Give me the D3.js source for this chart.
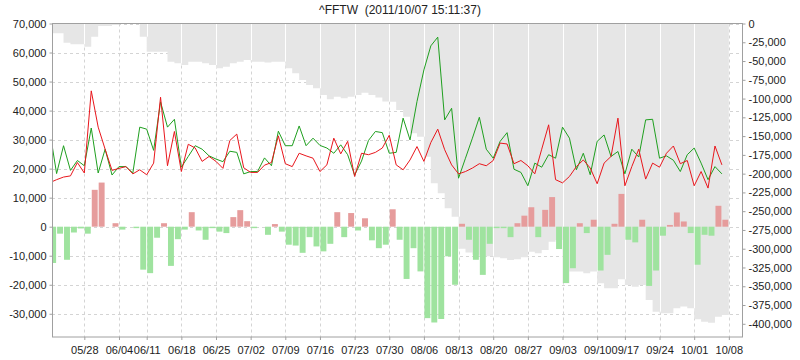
<!DOCTYPE html>
<html><head><meta charset="utf-8">
<script src="https://cdn.jsdelivr.net/npm/d3@7"></script>
<style>body{margin:0;background:#fff} text{font-family:"Liberation Sans",Arial,sans-serif}</style>
</head><body><svg id="c" width="800" height="360"></svg>
<script>
const title = "^FFTW  (2011/10/07 15:11:37)";
const dates = ["05/23","05/24","05/25","05/26","05/27","05/30","05/31","06/01","06/02","06/03",
"06/07","06/08","06/09","06/10","06/13","06/14","06/15","06/16","06/17","06/20","06/21","06/22","06/23","06/24",
"06/27","06/28","06/29","06/30","07/01","07/04","07/05","07/06","07/07","07/08","07/11","07/12","07/13","07/14","07/15",
"07/18","07/19","07/20","07/21","07/22","07/25","07/26","07/27","07/28","07/29","08/01","08/02","08/03","08/04","08/05",
"08/08","08/09","08/10","08/11","08/12","08/15","08/16","08/17","08/18","08/19","08/22","08/23","08/24","08/25","08/26",
"08/29","08/30","08/31","09/01","09/02","09/05","09/06","09/07","09/08","09/09","09/13","09/14","09/15","09/16",
"09/19","09/20","09/21","09/22","09/23","09/26","09/27","09/28","09/29","09/30","10/03","10/04","10/05","10/06","10/07"];
const tickLabels = ["05/28","06/04","06/11","06/18","06/25","07/02","07/09","07/16","07/23","07/30","08/06","08/13","08/20","08/27","09/03","09/10","09/17","09/24","10/01","10/08"];
const leftTicks = [70000,60000,50000,40000,30000,20000,10000,0,-10000,-20000,-30000];
const rightTicks = [0,-25000,-50000,-75000,-100000,-125000,-150000,-175000,-200000,-225000,-250000,-275000,-300000,-325000,-350000,-375000,-400000];
const greenLine = [28200,18300,27900,19400,22800,21000,34000,18500,26700,17800,20700,20700,18500,34300,33600,26300,43000,34300,37000,20500,
24200,27900,26700,24400,23300,22400,26000,25600,18200,19000,19000,23700,21000,32900,27900,27900,34700,27900,30500,28000,
27100,25300,28200,24800,17800,22600,29700,32800,32400,25300,25600,37400,29900,43100,54000,62300,65300,36800,40800,16700,
23600,30500,37700,26700,23600,29400,32400,19800,18700,14100,21900,20500,24800,23600,34300,30500,19600,25300,17900,29400,
31600,24200,25900,18200,26700,24000,36800,37000,23600,24400,22900,19000,24800,27100,21900,16200,20700,18200];
const redLine = [15500,16200,17100,17500,22100,18500,46800,34300,26700,19400,20100,20700,18200,19600,17900,21900,44600,21000,32800,19000,
28400,27100,22500,24200,22500,20100,29700,31900,20300,18700,18700,21200,22100,31300,21700,20700,25300,24400,23600,19000,
21300,30500,25100,29400,17300,25300,24800,25600,27100,31500,21300,19600,23000,27600,22500,29000,33600,26500,21300,18200,
19000,20200,21700,21000,22800,28800,28500,21700,22800,21000,18200,26700,35100,16200,15100,17300,20700,23000,20200,14800,
21900,24200,37400,14100,20700,26700,16400,21900,20500,25300,27800,21700,22800,14100,19000,13300,27800,21300];
const diffBars = [-12500,-2400,-11400,-2000,-600,-2400,12700,15200,0,1200,-1000,0,-500,-14800,-16000,-3800,1200,-13500,-4300,-1000,
5000,-1300,-4500,-500,-1700,-2200,3300,5700,1900,-500,0,-2800,900,-1700,-6200,-6500,-9000,-3600,-6800,-8500,
-5900,5000,-3600,4700,-1300,2900,-4700,-7400,-6200,6000,-4500,-18000,-7400,-15400,-31500,-33000,-31800,-10200,-20000,1000,
-4500,-11400,-16600,-5900,-500,-500,-3600,1200,3800,6700,-3600,5800,10200,-7700,-19400,-14300,1200,-2200,2400,-15100,
-9700,1000,11300,-4500,-5400,2400,-20400,-15100,-3100,600,4900,1800,-2200,-13100,-2800,-3100,7200,2400];
const grayArea = [-13000,-13000,-25500,-27800,-27800,-30900,-17500,-3300,-3300,-2000,-700,-700,-700,-17500,-37500,-37500,-37500,-50800,-53100,-55300,
-50800,-50800,-53100,-55300,-59700,-57500,-53100,-50800,-48600,-50800,-50800,-52000,-50800,-50800,-59700,-66400,-75300,-81900,-86400,-95300,
-101000,-97500,-99700,-97500,-95300,-92100,-95300,-98600,-104000,-104100,-115200,-124100,-146300,-150700,-177400,-212900,-226200,-246200,-257300,-300000,
-305000,-308000,-310000,-310000,-311400,-312800,-315000,-314100,-311400,-303900,-306100,-301600,-290600,-288400,-346100,-330500,-330500,-332800,-330500,-346100,
-352700,-352700,-340800,-348300,-350500,-348300,-368300,-383800,-386000,-386000,-379400,-377100,-379400,-394000,-397200,-398500,-390500,-388300];

const svg = d3.select("#c");
const L = 52, R = 742, T = 23.5, B = 337;
const N = dates.length;
const x = d3.scaleLinear().domain([0.336, 99.9]).range([L, R]).clamp(true);
const yL = d3.scaleLinear().domain([-38000, 70000]).range([B, T]);
const yR = d3.scaleLinear().domain([-417600, 0]).range([B, T]);
const fmt = v => (v < 0 ? "-" : "") + d3.format(",")(Math.abs(v));
const tickIdx = tickLabels.map(t => { const k = dates.findIndex(d => d > t); return k < 0 ? N : k; });

svg.append("defs").append("clipPath").attr("id", "clip").append("rect")
  .attr("x", L).attr("y", T).attr("width", R - L).attr("height", B - T);
const plot = svg.append("g").attr("clip-path", "url(#clip)");

// gridlines
plot.selectAll("line.hg").data(leftTicks).join("line")
  .attr("x1", L).attr("x2", R).attr("y1", d => Math.round(yL(d)) + 0.5).attr("y2", d => Math.round(yL(d)) + 0.5)
  .attr("stroke", "#d4d4d4").attr("stroke-dasharray", "3,3");
plot.selectAll("line.vg").data(tickIdx).join("line")
  .attr("y1", T).attr("y2", B).attr("x1", d => Math.round(x(d)) + 0.5).attr("x2", d => Math.round(x(d)) + 0.5)
  .attr("stroke", "#d4d4d4").attr("stroke-dasharray", "3,3");

// gray step area (right axis)
const grayPts = grayArea.map((v, i) => [i, v]).concat([[N, grayArea[N - 1]]]);
const area = d3.area().curve(d3.curveStepAfter).x(d => x(d[0])).y0(yR(0)).y1(d => yR(d[1]));
plot.append("path").datum(grayPts).attr("d", area).attr("fill", "#e6e6e6");
// white week separators in the gray
plot.selectAll("line.ws").data(tickIdx.filter(t => t > 0 && t < N)).join("line")
  .attr("x1", d => Math.round(x(d)) + 0.5).attr("x2", d => Math.round(x(d)) + 0.5)
  .attr("y1", T).attr("y2", d => yR(Math.max(grayArea[d - 1], grayArea[d])))
  .attr("stroke", "#fff");

// bars
plot.selectAll("rect.b").data(diffBars).join("rect")
  .attr("x", (d, i) => x(i) + 0.5).attr("width", (d, i) => Math.max(0, x(i + 1) - x(i) - 1))
  .attr("y", d => yL(Math.max(0, d))).attr("height", d => Math.abs(yL(d) - yL(0)))
  .attr("fill", d => d >= 0 ? "#e69c9c" : "#9fe39f");

// lines
const line = d3.line().x((d, i) => x(i)).y(d => yL(d));
plot.append("path").datum(greenLine).attr("d", line).attr("fill", "none").attr("stroke", "#1f9f1f").attr("stroke-width", 1);
plot.append("path").datum(redLine).attr("d", line).attr("fill", "none").attr("stroke", "#e8161c").attr("stroke-width", 1);

// frame
svg.append("rect").attr("x", L + 0.5).attr("y", T).attr("width", R - L).attr("height", B - T)
  .attr("fill", "none").attr("stroke", "#a0a0a0");

// axes
function style(g) {
  g.select(".domain").remove();
  g.selectAll(".tick line").attr("stroke", "#a0a0a0");
  g.selectAll("text").attr("fill", "#222").style("font-size", "11px").style("font-family", "'Liberation Sans', Arial, sans-serif");
}
svg.append("g").attr("transform", `translate(${L + 0.5},0)`)
  .call(d3.axisLeft(yL).tickValues(leftTicks).tickSize(3).tickPadding(3).tickFormat(fmt)).call(style);
svg.append("g").attr("transform", `translate(${R + 0.5},0)`)
  .call(d3.axisRight(yR).tickValues(rightTicks).tickSize(3).tickPadding(3).tickFormat(fmt)).call(style);
svg.append("g").attr("transform", `translate(0,${B})`)
  .call(d3.axisBottom(x).tickValues(tickIdx).tickSize(3).tickPadding(6).tickFormat((d, i) => tickLabels[i])).call(style);

svg.append("text").attr("x", 400).attr("y", 14).attr("text-anchor", "middle")
  .style("font-size", "12px").style("white-space", "pre").attr("xml:space", "preserve")
  .attr("fill", "#222").text(title);
</script></body></html>
